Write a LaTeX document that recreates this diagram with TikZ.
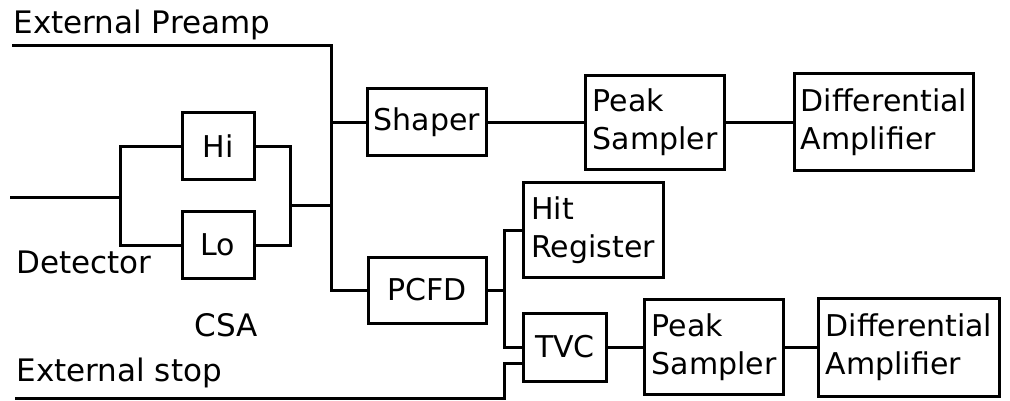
\documentclass[tikz,border=0pt]{standalone}
\usepackage{fontspec}
\setmainfont{DejaVu Sans}
\begin{document}
\begin{tikzpicture}
  [x=1pt, y=-1pt, line width=3pt,
   block/.style={rectangle, draw=black, inner sep=4pt, align=left, font=\fontsize{30}{38}\selectfont},
   sig/.style={anchor=base west, inner sep=0pt, font=\fontsize{31}{38}\selectfont}]

  \useasboundingbox (0,0) rectangle (1010,400);

  \node[block, minimum width=72pt, minimum height=67pt] (hi) at (218,146) {Hi};
  \node[block, minimum width=72pt, minimum height=67pt] (lo) at (218,245) {Lo};
  \node[block, minimum width=119pt, minimum height=67pt] (shaper) at (427,122) {Shaper};
  \node[block, minimum width=118pt, minimum height=66pt] (pcfd) at (427,290) {PCFD};
  \node[block, minimum width=139pt, minimum height=94pt] (ps1) at (655,122) {Peak\\Sampler};
  \node[block, minimum width=179pt, minimum height=97pt] (da1) at (884,122) {Differential\\Amplifier};
  \node[block, minimum width=140pt, minimum height=95pt] (hit) at (593,230) {Hit\\Register};
  \node[block, minimum width=83pt, minimum height=68pt] (tvc) at (565,347) {TVC};
  \node[block, minimum width=139pt, minimum height=95pt] (ps2) at (714,347) {Peak\\Sampler};
  \node[block, minimum width=181pt, minimum height=98pt] (da2) at (909,347) {Differential\\Amplifier};

  \node[sig] (tpre) at (12,33) {External Preamp};
  \node[sig] (tdet) at (15,273) {Detector};
  \node[sig] (tcsa) at (193,336) {CSA};
  \node[sig] (tstop) at (15,381) {External stop};

  \coordinate (pre) at (12,45);
  \coordinate (det) at (10,197);
  \coordinate (split) at (120,197);
  \coordinate (merge) at (290,205);
  \coordinate (bus) at (331,205);
  \coordinate (fork) at (504,290);
  \coordinate (stop) at (15,398);
  \coordinate (stopin) at (504,363);

  \draw (det) -- (split);
  \foreach \to in {hi, lo}
    \draw (split) |- (\to);
  \foreach \from in {hi, lo}
    \draw (\from) -| (merge);
  \draw (merge) -- (bus);
  \draw (pre) -| (bus) |- (pcfd);
  \draw (bus) |- (shaper);
  \draw (pcfd) -- (fork);
  \foreach \to in {hit, tvc}
    \draw (fork) |- (\to);
  \draw (stop) -| (stopin) -- (stopin -| tvc.west);

  \foreach \from/\to in {shaper/ps1, ps1/da1, tvc/ps2, ps2/da2}
    \draw (\from) -- (\to);
\end{tikzpicture}
\end{document}
